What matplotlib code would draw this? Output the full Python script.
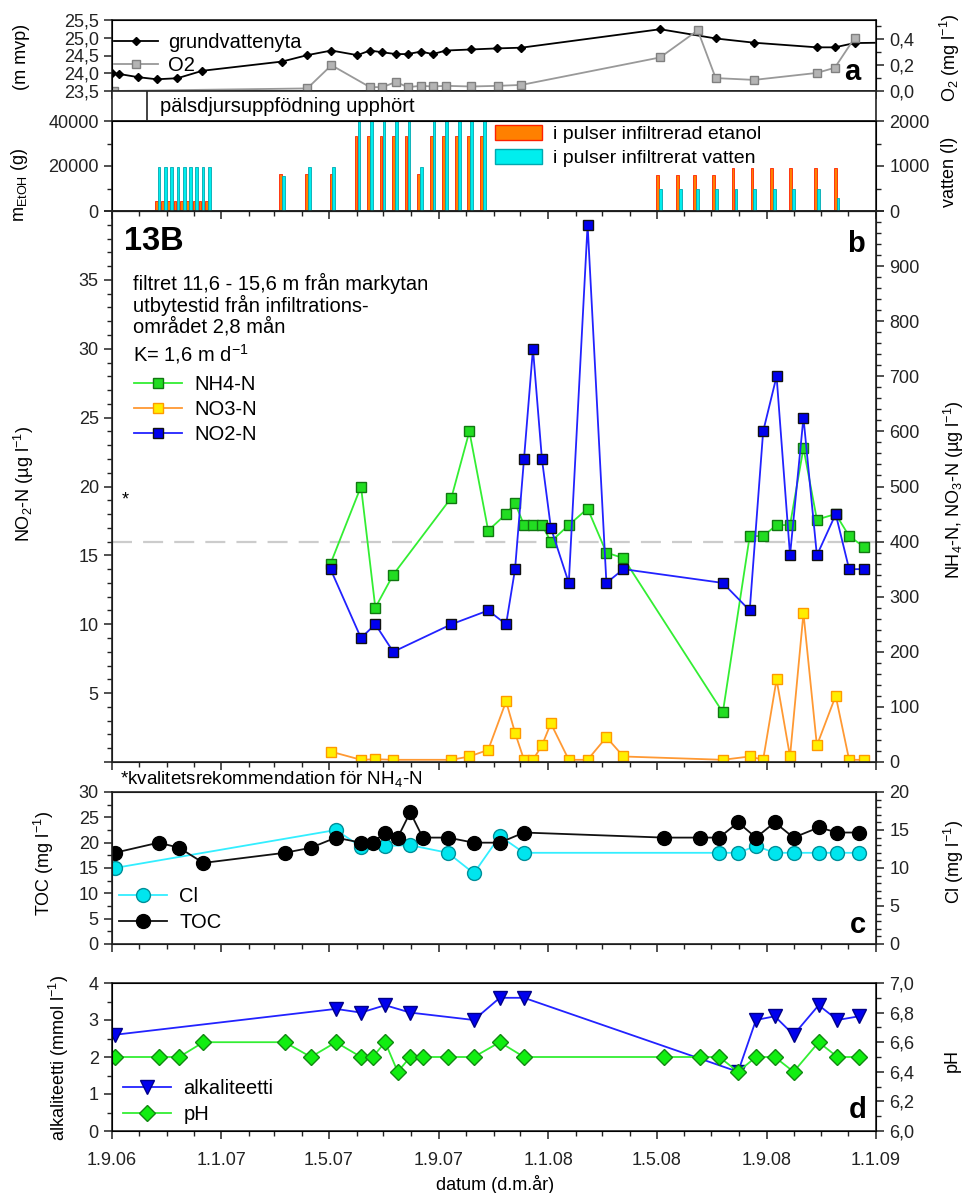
import matplotlib
matplotlib.use("Agg")

import matplotlib.pyplot as plt
import matplotlib.dates as mdates
from matplotlib.ticker import MultipleLocator, FuncFormatter, NullFormatter
from matplotlib.lines import Line2D
from matplotlib.patches import Patch
import pandas as pd

plt.rcParams['font.family'] = ['Liberation Sans', 'DejaVu Sans']
plt.rcParams['mathtext.fontset'] = 'custom'
plt.rcParams['mathtext.rm'] = 'Liberation Sans'
plt.rcParams['mathtext.it'] = 'Liberation Sans'

# --- a: groundwater level and O2 ---
gw_dates = ['2006-09-01', '2006-09-09', '2006-09-30', '2006-10-21', '2006-11-13', '2006-12-11',
            '2007-03-10', '2007-04-07', '2007-05-04', '2007-06-02', '2007-06-16', '2007-06-30',
            '2007-07-15', '2007-07-28', '2007-08-12', '2007-08-25', '2007-09-09', '2007-10-07',
            '2007-11-05', '2007-12-02', '2008-05-05', '2008-07-06', '2008-08-18', '2008-10-27',
            '2008-11-16', '2008-12-08', '2009-01-05']
gw_level = [24.00, 23.98, 23.89, 23.83, 23.86, 24.07, 24.33, 24.51, 24.64, 24.51, 24.64, 24.59,
            24.54, 24.54, 24.61, 24.54, 24.64, 24.67, 24.70, 24.72, 25.24, 24.98, 24.86, 24.73,
            24.73, 24.85, 24.86]
o2_dates = ['2006-09-03', '2007-04-07', '2007-05-04', '2007-06-16', '2007-06-30', '2007-07-15',
            '2007-07-28', '2007-08-12', '2007-08-25', '2007-09-09', '2007-10-07', '2007-11-06',
            '2007-12-02', '2008-05-05', '2008-06-16', '2008-07-06', '2008-08-18', '2008-10-27',
            '2008-11-16', '2008-12-08']
o2_conc = [0.0, 0.02, 0.20, 0.03, 0.03, 0.07, 0.03, 0.04, 0.035, 0.04, 0.035, 0.04,
           0.047, 0.26, 0.47, 0.10, 0.086, 0.14, 0.18, 0.41]
stop_date = '2006-10-10'

# --- pulses of ethanol / water ---
pulse_dates = ['2006-10-22', '2006-10-29', '2006-11-05', '2006-11-12', '2006-11-19', '2006-11-26',
               '2006-12-03', '2006-12-10', '2006-12-17',
               '2007-03-10', '2007-04-08', '2007-05-05',
               '2007-06-02', '2007-06-16', '2007-06-30', '2007-07-14', '2007-07-28', '2007-08-11',
               '2007-08-25', '2007-09-08', '2007-09-22', '2007-10-06', '2007-10-20',
               '2008-05-04', '2008-05-26', '2008-06-14', '2008-07-05', '2008-07-27', '2008-08-17',
               '2008-09-08', '2008-09-29', '2008-10-27', '2008-11-18']
etoh_g = [4500, 4500, 4500, 4500, 4500, 4500, 4500, 4500, 4500,
          16500, 16500, 16500,
          33300, 33300, 33300, 33300, 33300, 16500, 33300, 33300, 33300, 33300, 33300,
          16000, 16000, 16000, 16000, 19000, 19000, 19000, 19000, 19000, 19000]
water_l = [980, 980, 980, 980, 980, 980, 980, 980, 980,
           780, 980, 980,
           2000, 2000, 2000, 2000, 2000, 980, 2000, 2000, 2000, 2000, 2000,
           500, 500, 500, 500, 500, 500, 500, 500, 500, 300]

# --- b: nitrogen ---
nut_dates = ['2007-05-03', '2007-06-06', '2007-06-22', '2007-07-12', '2007-09-15', '2007-10-05',
             '2007-10-26', '2007-11-15', '2007-11-25', '2007-12-05', '2007-12-15', '2007-12-25',
             '2008-01-04', '2008-01-24', '2008-02-14', '2008-03-06', '2008-03-25', '2008-07-14',
             '2008-08-13', '2008-08-28', '2008-09-12', '2008-09-27', '2008-10-12', '2008-10-27',
             '2008-11-17', '2008-12-02', '2008-12-19']
nh4 = [360, 500, 280, 340, 480, 600, 420, 450, 470, 430, 430, 430, 400, 430, 460, 380, 370, 90,
       410, 410, 430, 430, 570, 440, 450, 410, 390]
no3 = [19, 4, 5, 4, 4, 10, 22, 110, 53, 4, 4, 30, 70, 4, 4, 45, 10, 4, 10, 4, 150, 10, 270, 30,
       120, 4, 4]
no2_dates = ['2007-05-03', '2007-06-06', '2007-06-22', '2007-07-12', '2007-09-15',
             '2007-10-26', '2007-11-15', '2007-11-25', '2007-12-05', '2007-12-15', '2007-12-25',
             '2008-01-04', '2008-01-24', '2008-02-14', '2008-03-06', '2008-03-25', '2008-07-14',
             '2008-08-13', '2008-08-28', '2008-09-12', '2008-09-27', '2008-10-12', '2008-10-27',
             '2008-11-17', '2008-12-02', '2008-12-19']
no2 = [14, 9, 10, 8, 10, 11, 10, 14, 22, 30, 22, 17, 13, 39, 13, 14, 13, 11, 24, 28, 15, 25, 15,
       18, 14, 14]
nh4_limit = 400

# --- c, d: TOC, Cl, alkalinity, pH ---
cd_dates = ['2006-09-04', '2006-10-23', '2006-11-15', '2006-12-12', '2007-03-13', '2007-04-11',
            '2007-05-09', '2007-06-06', '2007-06-19', '2007-07-03', '2007-07-17', '2007-07-31',
            '2007-08-14', '2007-09-11', '2007-10-10', '2007-11-08', '2007-12-05', '2008-05-09',
            '2008-06-19', '2008-07-10', '2008-07-31', '2008-08-20', '2008-09-10', '2008-10-01',
            '2008-10-29', '2008-11-19', '2008-12-13']
toc = [18, 20, 19, 16, 18, 19, 21, 20, 20, 22, 21, 26, 21, 21, 20, 20, 22, 21, 21, 21, 24, 21,
       24, 21, 23, 22, 22]
ph = [6.5, 6.5, 6.5, 6.6, 6.6, 6.5, 6.6, 6.5, 6.5, 6.6, 6.4, 6.5, 6.5, 6.5, 6.5, 6.6, 6.5, 6.5,
      6.5, 6.5, 6.4, 6.5, 6.5, 6.4, 6.6, 6.5, 6.5]
cl_dates = ['2006-09-04', '2007-05-09', '2007-06-06', '2007-07-03', '2007-07-31', '2007-09-11',
            '2007-10-10', '2007-11-08', '2007-12-05', '2008-07-10', '2008-07-31', '2008-08-20',
            '2008-09-10', '2008-10-01', '2008-10-29', '2008-11-19', '2008-12-13']
cl = [10, 15, 12.8, 12.9, 13, 12, 9.3, 14.2, 12, 12, 12, 12.9, 12, 12, 12, 12, 12]
alk_dates = ['2006-09-04', '2007-05-09', '2007-06-06', '2007-07-03', '2007-07-31', '2007-10-10',
             '2007-11-08', '2007-12-05', '2008-07-31', '2008-08-20', '2008-09-10', '2008-10-01',
             '2008-10-29', '2008-11-19', '2008-12-13']
alk = [2.6, 3.3, 3.2, 3.4, 3.2, 3.0, 3.6, 3.6, 1.6, 3.0, 3.1, 2.6, 3.4, 3.0, 3.1]

x_start, x_end = pd.Timestamp('2006-09-01'), pd.Timestamp('2009-01-01')

# --- layout helpers (pixel -> figure fraction) ---
W_PX, H_PX = 970, 1193
fig = plt.figure(figsize=(W_PX / 100, H_PX / 100), dpi=100)


def fx(x):
    return x / W_PX


def fy(y):
    return 1 - y / H_PX


def box(top, bottom):
    return [fx(112), fy(bottom), fx(876) - fx(112), (bottom - top) / H_PX]


def comma(fmt):
    return FuncFormatter(lambda v, p: format(v, fmt).replace('.', ','))


def date_label(v, pos):
    d = mdates.num2date(v)
    return f"{d.day}.{d.month}.{d:%y}"


TICK = 13
TXT = 14.5
INK = '#222222'


def style(ax, labels=False):
    ax.set_xlim(x_start, x_end)
    ax.xaxis.set_major_locator(mdates.MonthLocator(bymonth=[1, 5, 9]))
    ax.xaxis.set_minor_locator(mdates.MonthLocator())
    if labels:
        ax.xaxis.set_major_formatter(FuncFormatter(date_label))
    else:
        ax.xaxis.set_major_formatter(NullFormatter())
    ax.tick_params(which='major', direction='out', length=6, width=1.1, labelsize=TICK, colors=INK)
    ax.tick_params(which='minor', direction='out', length=3.5, width=1.0, colors=INK)
    ax.tick_params(axis='x', which='major', pad=9)
    for s in ax.spines.values():
        s.set_linewidth(1.2)
        s.set_color(INK)


def twin_style(ax):
    ax.tick_params(which='major', direction='out', length=6, width=1.1, labelsize=TICK, colors=INK)
    ax.tick_params(which='minor', direction='out', length=3.5, width=1.0, colors=INK)


dates = lambda lst: pd.to_datetime(lst)
T = fig.transFigure

# ---------------- panel a ----------------
ax_a = fig.add_axes(box(20, 91))
style(ax_a)
ax_a.plot(dates(gw_dates), gw_level, color='black', lw=1.3, marker='D', ms=4)
ax_a.set_ylim(23.5, 25.5)
ax_a.yaxis.set_major_locator(MultipleLocator(0.5))
ax_a.yaxis.set_major_formatter(comma('.1f'))
ax_a2 = ax_a.twinx()
twin_style(ax_a2)
ax_a2.plot(dates(o2_dates), o2_conc, color='#999999', lw=1.3, marker='s', ms=6,
           mfc='#b4b4b4', mec='#808080')
ax_a2.set_ylim(0, 0.55)
ax_a2.yaxis.set_major_locator(MultipleLocator(0.2))
ax_a2.yaxis.set_minor_locator(MultipleLocator(0.1))
ax_a2.yaxis.set_major_formatter(comma('.1f'))
ax_a2.legend([Line2D([], [], color='black', lw=1.3, marker='D', ms=4),
              Line2D([], [], color='#999999', lw=1.3, marker='s', ms=6, mfc='#b4b4b4', mec='#808080')],
             ['grundvattenyta', 'O2'], loc='upper left', bbox_to_anchor=(fx(114), fy(33)),
             bbox_transform=T, frameon=False, fontsize=TXT, handlelength=2.2,
             handletextpad=0.5, borderpad=0, borderaxespad=0, labelspacing=0.2)
ax_a2.text(fx(852), fy(72), 'a', transform=T, fontsize=21, fontweight='bold',
           ha='center', va='center')

# strip with note
ax_s = fig.add_axes(box(91, 121))
ax_s.set_xlim(x_start, x_end)
ax_s.set_ylim(0, 1)
ax_s.set_xticks([])
ax_s.set_yticks([])
for s in ax_s.spines.values():
    s.set_linewidth(1.2)
    s.set_color(INK)
ax_s.axvline(pd.Timestamp(stop_date), color=INK, lw=1.2)
ax_s.text(fx(160), fy(106), 'pälsdjursuppfödning upphört', transform=T,
          fontsize=TXT, va='center', ha='left')

# ---------------- pulses ----------------
ax_p = fig.add_axes(box(121, 211))
style(ax_p)
pd_dates = dates(pulse_dates)
ax_p.bar(pd_dates - pd.Timedelta(days=1.6), etoh_g, width=3.0, color='#ff8000',
         edgecolor='#ff2000', lw=0.6)
ax_p.set_ylim(0, 40000)
ax_p.yaxis.set_major_locator(MultipleLocator(20000))
ax_p.yaxis.set_minor_locator(MultipleLocator(10000))
ax_p2 = ax_p.twinx()
twin_style(ax_p2)
ax_p2.bar(pd_dates + pd.Timedelta(days=1.6), water_l, width=3.0, color='#00eeee',
          edgecolor='#00a8b0', lw=0.6)
ax_p2.set_ylim(0, 2000)
ax_p2.yaxis.set_major_locator(MultipleLocator(1000))
ax_p2.yaxis.set_minor_locator(MultipleLocator(500))
ax_p2.legend([Patch(facecolor='#ff8000', edgecolor='#ff2000'),
              Patch(facecolor='#00eeee', edgecolor='#00a8b0')],
             ['i pulser infiltrerad etanol', 'i pulser infiltrerat vatten'],
             loc='upper left', bbox_to_anchor=(fx(495), fy(125)), bbox_transform=T,
             frameon=False, fontsize=TXT - 0.5, handlelength=2.4, handleheight=0.8,
             handletextpad=0.6, borderpad=0, borderaxespad=0, labelspacing=0.3)

# ---------------- panel b ----------------
ax_b = fig.add_axes(box(211, 762))
style(ax_b)
ax_b2 = ax_b.twinx()
twin_style(ax_b2)
ax_b.set_zorder(ax_b2.get_zorder() + 1)
ax_b.patch.set_visible(False)

ax_b2.axhline(nh4_limit, color='#cccccc', lw=1.6, dashes=(9, 5))
l_nh4, = ax_b2.plot(dates(nut_dates), nh4, color='#33ee33', lw=1.3, marker='s', ms=7.5,
                    mfc='#22dd22', mec='#117711', mew=1.0)
l_no3, = ax_b2.plot(dates(nut_dates), no3, color='#ff9933', lw=1.3, marker='s', ms=7.5,
                    mfc='#ffee00', mec='#ff9900', mew=1.0)
l_no2, = ax_b.plot(dates(no2_dates), no2, color='#2222ff', lw=1.3, marker='s', ms=7.5,
                   mfc='#0000ee', mec='#111111', mew=1.0)
ax_b.set_ylim(0, 40)
ax_b.yaxis.set_major_locator(MultipleLocator(5))
ax_b.yaxis.set_minor_locator(MultipleLocator(1))
ax_b.yaxis.set_major_formatter(FuncFormatter(lambda v, p: '' if v in (0, 40) else f"{v:.0f}"))
ax_b2.set_ylim(0, 1000)
ax_b2.yaxis.set_major_locator(MultipleLocator(100))
ax_b2.yaxis.set_minor_locator(MultipleLocator(20))
ax_b2.yaxis.set_major_formatter(FuncFormatter(lambda v, p: '' if v >= 1000 else f"{v:.0f}"))

ax_b.legend([l_nh4, l_no3, l_no2], ['NH4-N', 'NO3-N', 'NO2-N'], loc='upper left',
            bbox_to_anchor=(fx(134), fy(375)), bbox_transform=T, frameon=False,
            fontsize=TXT, handlelength=2.4, handletextpad=0.6, borderpad=0, borderaxespad=0,
            labelspacing=0.3)
ax_b.text(fx(124), fy(241), '13B', transform=T, fontsize=23.5, fontweight='bold', va='center')
ax_b.text(fx(856), fy(244), 'b', transform=T, fontsize=21, fontweight='bold', va='center', ha='center')
ax_b.text(fx(133), fy(283), 'filtret 11,6 - 15,6 m från markytan', transform=T, fontsize=TXT, va='center')
ax_b.text(fx(133), fy(305), 'utbytestid från infiltrations-', transform=T, fontsize=TXT, va='center')
ax_b.text(fx(133), fy(327), 'området 2,8 mån', transform=T, fontsize=TXT, va='center')
ax_b.text(fx(133), fy(354), 'K= 1,6 m d$^{-1}$', transform=T, fontsize=TXT, va='center')
ax_b.text(fx(122), fy(500), '*', transform=T, fontsize=13, va='center')
ax_b.text(fx(120), fy(779), '*kvalitetsrekommendation för NH$_4$-N', transform=T, fontsize=13.5,
          va='center')

# ---------------- panel c ----------------
ax_c = fig.add_axes(box(792, 944))
style(ax_c)
ax_c2 = ax_c.twinx()
twin_style(ax_c2)
ax_c.set_zorder(ax_c2.get_zorder() + 1)
ax_c.patch.set_visible(False)
l_cl, = ax_c2.plot(dates(cl_dates), cl, color='#33eeff', lw=1.3, marker='o', ms=10,
                   mfc='#00e5ee', mec='#008f99', mew=1.0)
l_toc, = ax_c.plot(dates(cd_dates), toc, color='#111111', lw=1.3, marker='o', ms=10,
                   mfc='black', mec='black')
ax_c.set_ylim(0, 30)
ax_c.yaxis.set_major_locator(MultipleLocator(5))
ax_c.yaxis.set_minor_locator(MultipleLocator(2.5))
ax_c2.set_ylim(0, 20)
ax_c2.yaxis.set_major_locator(MultipleLocator(5))
ax_c2.yaxis.set_minor_locator(MultipleLocator(1))
ax_c.legend([l_cl, l_toc], ['Cl', 'TOC'], loc='upper left', bbox_to_anchor=(fx(119), fy(887)),
            bbox_transform=T, frameon=False, fontsize=TXT, handlelength=2.4, handletextpad=0.6,
            borderpad=0, borderaxespad=0, labelspacing=0.35)
ax_c.text(fx(858), fy(925), 'c', transform=T, fontsize=21, fontweight='bold', va='center', ha='center')

# ---------------- panel d ----------------
ax_d = fig.add_axes(box(983, 1131))
style(ax_d, labels=True)
l_alk, = ax_d.plot(dates(alk_dates), alk, color='#2222ff', lw=1.3, marker='v', ms=10,
                   mfc='#0000ee', mec='#000088', mew=1.0)
ax_d.set_ylim(0, 4)
ax_d.yaxis.set_major_locator(MultipleLocator(1))
ax_d.yaxis.set_minor_locator(MultipleLocator(0.5))
ax_d2 = ax_d.twinx()
twin_style(ax_d2)
l_ph, = ax_d2.plot(dates(cd_dates), ph, color='#33ee33', lw=1.3, marker='D', ms=8.5,
                   mfc='#11ee11', mec='#118811', mew=1.0)
ax_d2.set_ylim(6.0, 7.0)
ax_d2.yaxis.set_major_locator(MultipleLocator(0.2))
ax_d2.yaxis.set_minor_locator(MultipleLocator(0.1))
ax_d2.yaxis.set_major_formatter(comma('.1f'))
ax_d2.legend([l_alk, l_ph], ['alkaliteetti', 'pH'], loc='upper left', bbox_to_anchor=(fx(123), fy(1079)),
             bbox_transform=T, frameon=False, fontsize=TXT, handlelength=2.4, handletextpad=0.6,
             borderpad=0, borderaxespad=0, labelspacing=0.35)
ax_d2.text(fx(858), fy(1110), 'd', transform=T, fontsize=21, fontweight='bold', va='center', ha='center')

# ---------------- axis titles ----------------
LBL = 13
fig.text(fx(22), fy(57), '(m mvp)', rotation=90, fontsize=LBL, ha='center', va='center')
fig.text(fx(20), fy(185), 'm$_{\\mathrm{EtOH}}$ (g)', rotation=90, fontsize=LBL, ha='center', va='center')
fig.text(fx(24), fy(484), 'NO$_2$-N (µg l$^{-1}$)', rotation=90, fontsize=LBL, ha='center', va='center')
fig.text(fx(44), fy(864), 'TOC (mg l$^{-1}$)', rotation=90, fontsize=LBL, ha='center', va='center')
fig.text(fx(59), fy(1058), 'alkaliteetti (mmol l$^{-1}$)', rotation=90, fontsize=LBL, ha='center', va='center')
fig.text(fx(950), fy(58), 'O$_2$ (mg l$^{-1}$)', rotation=90, fontsize=LBL, ha='center', va='center')
fig.text(fx(950), fy(172), 'vatten (l)', rotation=90, fontsize=LBL, ha='center', va='center')
fig.text(fx(954), fy(490), 'NH$_4$-N, NO$_3$-N (µg l$^{-1}$)', rotation=90, fontsize=LBL,
         ha='center', va='center')
fig.text(fx(954), fy(862), 'Cl (mg l$^{-1}$)', rotation=90, fontsize=LBL, ha='center', va='center')
fig.text(fx(952), fy(1060), 'pH', rotation=90, fontsize=LBL, ha='center', va='center')
fig.text(fx(495), fy(1184), 'datum (d.m.år)', fontsize=LBL, ha='center', va='center')

fig.savefig('out.png', dpi=100)
plt.close(fig)
